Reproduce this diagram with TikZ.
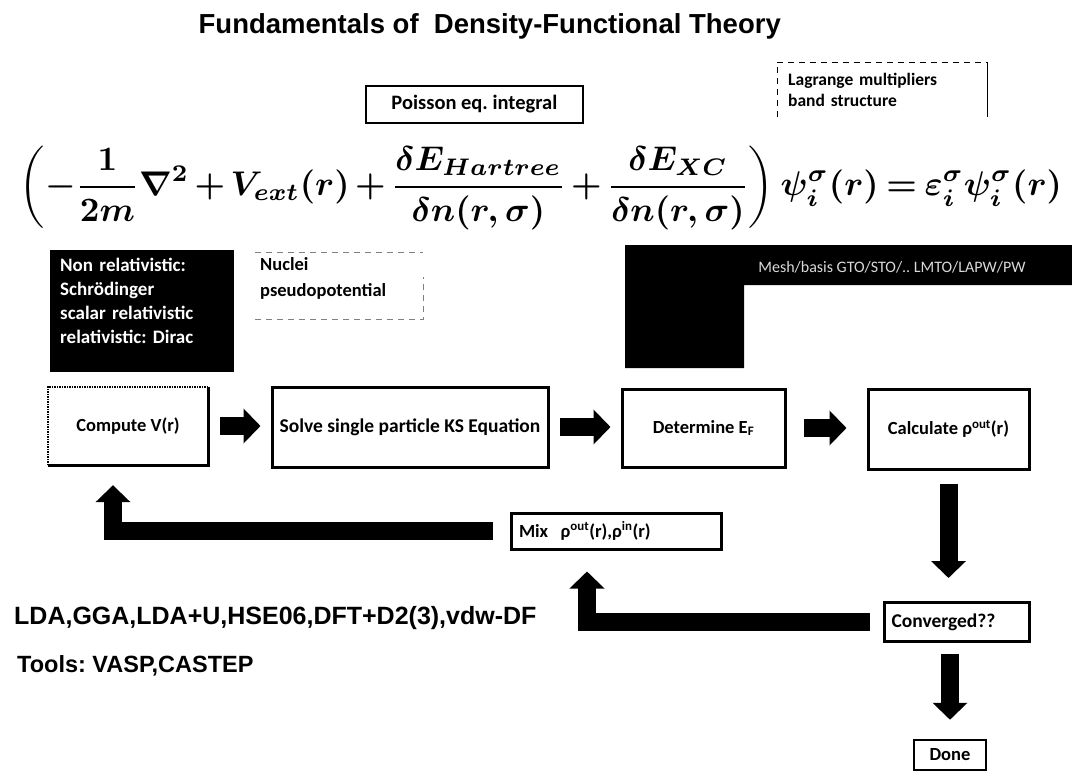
\documentclass[tikz,border=0pt]{standalone}
\usepackage[no-math]{fontspec}
\usepackage{amsmath}
\usepackage{graphicx}
\usetikzlibrary{arrows.meta}
\setmainfont{Liberation Sans}
\newfontfamily\calib{Carlito}
\tikzset{
  lbl/.style={font=\calib\bfseries\fontsize{18.5}{22}\selectfont},
  rowbox/.style={lbl, draw, line width=3pt, inner sep=0pt},
  blk/.style={line width=18pt, -{Triangle[length=17pt,width=34pt]}},
  faint/.style={line width=1pt, dashed, dash pattern=on 6pt off 5pt},
}
\begin{document}
\frenchspacing
\begin{tikzpicture}[x=1pt,y=-1pt]
\fill[white] (0,0) rectangle (1072,771);
\useasboundingbox (0,0) rectangle (1072,771);

% title
\node[font=\bfseries\fontsize{27.5}{32}\selectfont, anchor=base east, inner sep=0] (title) at (781,34) {Fundamentals of\ \ Density-Functional Theory};

% Lagrange box
\node[anchor=north west, minimum width=210pt, minimum height=55pt, text width=188pt, inner xsep=11pt, inner ysep=0pt, align=left, font=\calib\bfseries\fontsize{17.5}{20}\selectfont] (lag) at (777,62) {Lagrange multipliers\\[1pt]band structure};
\draw[faint] (lag.south west) -- (lag.north west) -- (lag.north east);
\draw[line width=1pt] (lag.north east) -- (lag.south east);

% Poisson box
\node[draw, line width=1.8pt, anchor=north west, minimum width=217pt, minimum height=37pt, inner sep=0pt, font=\calib\bfseries\fontsize{20.5}{24}\selectfont] (poi) at (365,85) {Poisson eq. integral};

% equation
\node[inner sep=0] (eq) at (541,188) {\resizebox{1042pt}{!}{\medmuskip=2.5mu\thickmuskip=3.5mu\boldmath$\displaystyle\left(-\frac{1}{2m}\nabla^2+V_{ext}(r)+\frac{\delta E_{Hartree}}{\delta n(r,\sigma)}+\frac{\delta E_{XC}}{\delta n(r,\sigma)}\right)\psi_i^\sigma(r)=\varepsilon_i^\sigma\psi_i^\sigma(r)$}};

% relativistic black box
\node[fill=black, minimum width=184pt, minimum height=122pt, anchor=north west, inner sep=0] (nrbox) at (50,250) {};
\node[text=white, anchor=north west, align=left, inner sep=0, text width=170pt, font=\calib\bfseries\fontsize{19}{21}\selectfont] (nrtext) at ([xshift=10pt,yshift=-8pt]nrbox.north west) {Non relativistic:\\[3pt]Schrödinger\\[3pt]scalar relativistic\\[3pt]relativistic: Dirac};

% nuclei box
\node[minimum width=168pt, minimum height=67pt, anchor=north west, inner sep=0] (nucbox) at (255,252) {};
\node[anchor=north west, align=left, inner sep=0, text width=160pt, font=\calib\bfseries\fontsize{18.5}{24}\selectfont] (nuct) at ([xshift=5pt,yshift=-5pt]nucbox.north west) {Nuclei\\[2pt]pseudopotential};
\draw[faint, gray] (nucbox.north west) -- (nucbox.north east);
\draw[faint, gray] (nucbox.south west) -- (nucbox.south east) -- ([yshift=-25pt]nucbox.north east);

% mesh black shape
\fill[black] (625,245) -- (1072,245) -- (1072,285) -- (744,285) -- (744,368) -- (625,368) -- cycle;
\node[text=white!85!black, font=\calib\fontsize{16}{19}\selectfont, inner sep=0] (mesht) at (892,267) {Mesh/basis GTO/STO/.. LMTO/LAPW/PW};

% main row
\node[lbl, inner sep=0, minimum width=160pt, minimum height=78pt] (cv) at (128,426) {Compute V(r)};
\draw[line width=3pt] (cv.north east) -- (cv.south east) -- (cv.south west);
\draw[line width=1.5pt, densely dotted] (cv.south west) -- (cv.north west) -- (cv.north east);
\node[rowbox, minimum width=276pt, minimum height=80pt, font=\calib\bfseries\fontsize{19.5}{22}\selectfont] (solve) at (410,427) {Solve single particle KS Equation};
\node[rowbox, minimum width=163pt, minimum height=78pt] (det) at (703.5,428) {Determine E\textsubscript{F}};
\node[rowbox, minimum width=161pt, minimum height=80pt] (calc) at (948.5,429) {Calculate ρ\textsuperscript{out}(r)};

\node[lbl, draw, line width=3pt, minimum width=210pt, minimum height=36pt, text width=194pt, inner xsep=8pt, inner ysep=0pt, align=left] (mix) at (616,531) {Mix\ \ ρ\textsuperscript{out}(r),ρ\textsuperscript{in}(r)};
\node[draw, line width=3pt, minimum width=145pt, minimum height=39pt, text width=131pt, inner xsep=7pt, inner ysep=0pt, align=left, font=\calib\bfseries\fontsize{19.5}{22}\selectfont] (conv) at (957,622) {Converged??};
\node[lbl, draw, line width=2.5pt, minimum width=72pt, minimum height=30pt, inner sep=0pt] (done) at (950,755) {Done};

% arrows
\draw[blk] ([xshift=12pt]cv.east) -- ([xshift=-10pt]cv.east -| solve.west);
\draw[blk] ([xshift=10pt]solve.east) -- ([xshift=-10pt]solve.east -| det.west);
\draw[blk] ([xshift=17pt]det.east) -- ([xshift=-20pt]det.east -| calc.west);
\draw[blk] ([yshift=-13pt]calc.south) -- ([yshift=23pt]calc.south |- conv.north);
\draw[blk] ([yshift=-11pt]done.north |- conv.south) -- ([yshift=19pt]done.north);
\draw[blk] ([xshift=-13pt]conv.west) -| ([xshift=-29pt,yshift=-21pt]mix.south);
\draw[blk] ([xshift=-17pt]mix.west) -| ([xshift=-15pt,yshift=-20pt]cv.south);

% bottom texts
\node[font=\bfseries\fontsize{25}{28}\selectfont, anchor=base west, inner sep=0] (lda) at (14,624) {LDA,GGA,LDA+U,HSE06,DFT+D2(3),vdw-DF};
\node[font=\bfseries\fontsize{23.5}{28}\selectfont, anchor=base west, inner sep=0] (tools) at (17,672) {Tools: VASP,CASTEP};
\end{tikzpicture}
\end{document}
